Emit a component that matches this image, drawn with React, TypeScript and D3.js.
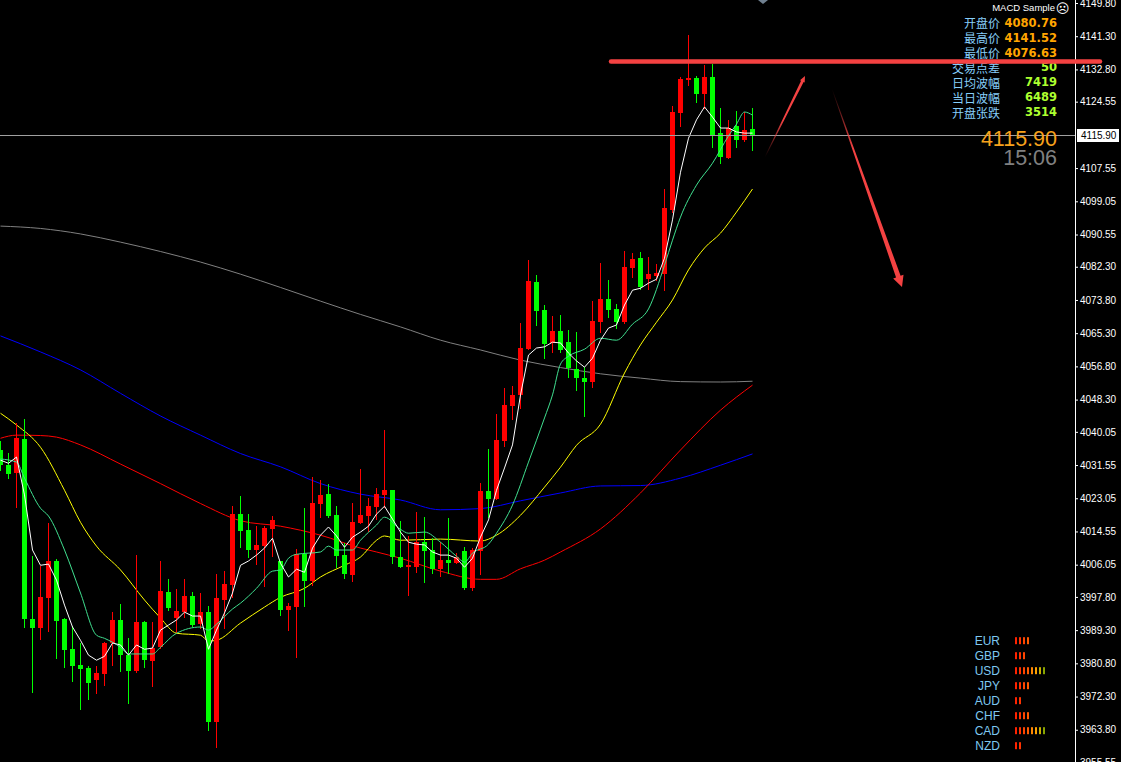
import { useEffect, useRef } from "react";
import * as d3 from "d3";

// candles, index 0 = leftmost visible bar
const opens = [4035.4, 4031.5, 4029.5, 4038.2, 3992.1, 3989.8, 3997.5, 4007.0, 3992.1, 3984.4, 3980.3, 3979.6, 3976.5, 3978.0, 3986.0, 3991.8, 3982.9, 3978.8, 3991.3, 3981.4, 3984.9, 3999.0, 3992.4, 3993.9, 3998.0, 3990.8, 3993.9, 3965.7, 3997.0, 4000.8, 4019.0, 4014.9, 4009.8, 4010.8, 4015.1, 4007.0, 3994.4, 3995.2, 4008.7, 4001.8, 4021.5, 4024.1, 4018.7, 4008.5, 4003.4, 4016.7, 4018.5, 4020.8, 4023.9, 4025.1, 4008.0, 4005.4, 4005.4, 4011.8, 4009.8, 4004.9, 4007.2, 4006.4, 4009.5, 4000.0, 4009.5, 4024.9, 4022.8, 4037.7, 4046.6, 4049.5, 4061.2, 4078.4, 4071.2, 4062.8, 4065.8, 4063.0, 4056.1, 4053.8, 4052.8, 4068.1, 4074.0, 4071.5, 4068.1, 4082.0, 4084.5, 4079.2, 4079.9, 4080.4, 4096.8, 4121.6, 4130.1, 4130.6, 4126.5, 4130.9, 4116.5, 4110.1, 4118.3, 4114.7, 4117.5];
const highs = [4037.7, 4034.6, 4042.3, 4043.3, 4008.2, 4005.7, 4016.7, 4007.5, 3992.3, 3990.3, 3986.0, 3980.1, 3980.1, 3986.2, 3993.9, 3995.9, 3987.2, 4008.5, 3991.6, 3991.3, 4007.0, 4002.3, 3999.8, 4002.3, 3999.0, 3998.8, 3995.4, 4003.6, 4004.4, 4021.0, 4023.6, 4019.0, 4015.9, 4015.9, 4018.5, 4007.0, 3996.2, 4010.0, 4020.5, 4028.5, 4027.7, 4026.7, 4021.0, 4011.6, 4021.8, 4030.5, 4023.1, 4025.7, 4040.5, 4025.1, 4017.2, 4013.4, 4019.5, 4018.2, 4012.8, 4011.8, 4018.0, 4009.0, 4010.5, 4010.3, 4027.0, 4035.6, 4044.6, 4051.2, 4051.8, 4067.9, 4084.0, 4080.2, 4072.5, 4069.7, 4069.9, 4066.1, 4065.6, 4056.6, 4073.5, 4083.2, 4078.9, 4072.7, 4086.3, 4085.8, 4086.1, 4084.8, 4083.0, 4102.2, 4123.4, 4130.9, 4141.5, 4131.1, 4133.9, 4134.2, 4122.9, 4119.9, 4122.2, 4121.9, 4122.9];
const lows = [4030.3, 4028.2, 4020.8, 3990.1, 3973.4, 3987.0, 3989.0, 3982.1, 3979.8, 3976.2, 3969.1, 3971.6, 3973.2, 3975.2, 3980.3, 3978.8, 3970.6, 3978.5, 3979.8, 3975.0, 3984.7, 3994.4, 3988.8, 3992.6, 3990.3, 3989.8, 3963.7, 3959.3, 3989.8, 3997.7, 4010.5, 4008.0, 4006.2, 4000.6, 4008.2, 3993.1, 3989.3, 3982.4, 3995.4, 4000.8, 4018.2, 4018.2, 4005.4, 4002.6, 4001.8, 4016.7, 4014.6, 4017.7, 4020.8, 4006.4, 4005.4, 3998.3, 4004.1, 4001.6, 4003.9, 4003.1, 4003.9, 4006.4, 3999.8, 3999.5, 4003.6, 4018.2, 4022.8, 4036.4, 4043.3, 4046.1, 4061.2, 4067.4, 4058.9, 4060.5, 4060.5, 4054.1, 4050.7, 4044.1, 4051.5, 4065.6, 4069.4, 4066.6, 4067.9, 4079.7, 4076.6, 4076.6, 4078.9, 4076.3, 4096.3, 4118.3, 4128.8, 4124.5, 4122.9, 4112.9, 4108.8, 4110.1, 4112.9, 4114.5, 4112.2];
const closes = [4031.5, 4029.2, 4038.4, 3992.1, 3989.8, 3997.7, 4007.0, 3991.6, 3984.2, 3980.1, 3979.3, 3975.7, 3978.3, 3986.0, 3991.8, 3982.9, 3978.8, 3991.3, 3981.6, 3984.7, 3999.3, 3994.9, 3994.2, 3998.0, 3990.6, 3993.9, 3965.7, 3997.5, 4001.1, 4019.0, 4014.6, 4009.8, 4011.1, 4015.4, 4017.4, 3994.4, 3995.4, 4008.7, 4001.8, 4021.8, 4023.9, 4018.5, 4008.2, 4003.6, 4016.9, 4018.7, 4021.0, 4024.1, 4025.1, 4008.0, 4005.4, 4005.9, 4011.8, 4009.5, 4004.9, 4007.2, 4006.4, 4008.0, 4000.0, 4009.8, 4024.9, 4022.8, 4037.9, 4046.9, 4049.5, 4061.5, 4078.6, 4071.0, 4062.5, 4065.8, 4061.0, 4056.4, 4053.8, 4052.8, 4068.4, 4074.0, 4071.2, 4068.1, 4082.2, 4084.3, 4077.1, 4080.4, 4080.7, 4097.3, 4121.9, 4130.3, 4130.6, 4126.5, 4130.9, 4116.0, 4110.4, 4117.8, 4114.7, 4117.3, 4115.9];

// moving averages: [bar index, price]
const maWhite = [4032.8, 4032.0, 4033.6, 4023.9, 4009.8, 4005.9, 4006.2, 4002.1, 3995.7, 3990.1, 3986.7, 3982.9, 3981.6, 3982.6, 3986.0, 3985.5, 3982.9, 3985.5, 3984.4, 3984.7, 3989.3, 3990.6, 3991.9, 3993.9, 3992.9, 3992.9, 3984.4, 3989.3, 3993.7, 3998.8, 4005.9, 4007.0, 4008.5, 4010.3, 4012.8, 4006.4, 4002.9, 4004.9, 4004.1, 4010.3, 4013.6, 4015.7, 4013.4, 4010.5, 4013.1, 4014.4, 4015.9, 4019.0, 4021.0, 4017.7, 4014.4, 4011.8, 4011.3, 4011.1, 4009.3, 4008.5, 4008.5, 4007.7, 4005.4, 4007.7, 4013.1, 4017.5, 4025.1, 4030.8, 4036.7, 4049.5, 4059.7, 4061.5, 4061.8, 4063.0, 4062.8, 4060.2, 4058.2, 4056.6, 4058.9, 4063.5, 4066.6, 4067.4, 4072.5, 4076.3, 4076.8, 4078.1, 4079.1, 4084.5, 4094.3, 4106.5, 4115.2, 4119.9, 4123.2, 4120.6, 4117.8, 4117.8, 4116.8, 4116.5, 4116.5];
const maTeal: [number, number][] = [[0, 4033.1], [2, 4032.3], [3, 4028.2], [5, 4020.5], [6, 4018.5], [8, 4009.8], [10, 3998.8], [12, 3988.0], [13, 3987.2], [15, 3984.9], [16, 3983.2], [19, 3983.2], [20, 3984.9], [22, 3988.5], [25, 3990.1], [26, 3989.3], [27, 3990.8], [29, 3994.7], [30, 3996.2], [32, 4000.0], [34, 4004.4], [35, 4004.7], [36, 4007.7], [37, 4008.7], [40, 4009.3], [41, 4010.8], [42, 4009.8], [44, 4009.8], [45, 4012.3], [47, 4016.2], [48, 4018.2], [50, 4015.1], [51, 4014.1], [53, 4014.4], [55, 4011.8], [57, 4008.2], [58, 4006.7], [59, 4009.0], [61, 4011.3], [62, 4014.1], [64, 4021.3], [66, 4032.3], [67, 4037.9], [68, 4043.6], [69, 4049.5], [70, 4057.4], [71, 4059.4], [73, 4061.2], [75, 4064.0], [77, 4063.5], [79, 4067.6], [81, 4071.5], [83, 4082.7], [84, 4089.1], [85, 4095.0], [87, 4103.2], [89, 4108.8], [91, 4115.8], [92, 4118.8], [93, 4121.9], [94, 4121.1]];
const maYellow: [number, number][] = [[0, 4044.8], [2, 4041.8], [5, 4036.1], [8, 4025.1], [10, 4016.9], [12, 4010.8], [15, 4004.7], [18, 3997.0], [20, 3992.4], [22, 3988.5], [25, 3988.0], [26, 3986.5], [27, 3986.7], [30, 3991.1], [33, 3995.2], [35, 3997.7], [38, 4000.0], [40, 4002.9], [43, 4005.9], [45, 4008.0], [47, 4012.3], [48, 4013.4], [50, 4012.3], [55, 4012.6], [60, 4012.1], [62, 4013.6], [65, 4018.7], [68, 4025.9], [70, 4031.0], [72, 4036.6], [75, 4042.0], [78, 4055.1], [80, 4062.3], [82, 4068.1], [84, 4073.8], [86, 4081.5], [88, 4087.1], [90, 4090.9], [92, 4096.3], [94, 4102.2]];
const maRed: [number, number][] = [[0, 4038.4], [2, 4039.2], [5, 4039.1], [7, 4038.7], [10, 4036.7], [15, 4031.8], [20, 4026.8], [25, 4021.7], [30, 4017.3], [35, 4015.9], [40, 4013.6], [45, 4010.3], [47, 4009.3], [50, 4007.7], [55, 4004.4], [60, 4002.3], [62, 4002.3], [65, 4005.0], [68, 4007.2], [70, 4009.3], [75, 4015.2], [80, 4024.4], [85, 4035.4], [90, 4045.6], [94, 4052.0]];
const maBlue: [number, number][] = [[0, 4064.6], [5, 4060.5], [10, 4055.9], [15, 4049.9], [20, 4044.1], [25, 4039.2], [30, 4034.5], [35, 4031.1], [40, 4026.8], [45, 4024.1], [50, 4022.6], [55, 4020.1], [60, 4020.4], [65, 4022.4], [70, 4024.4], [75, 4026.2], [80, 4026.3], [85, 4028.2], [90, 4031.5], [94, 4034.4]];
const maGrey: [number, number][] = [[0, 4092.7], [5, 4092.1], [10, 4090.7], [15, 4088.6], [20, 4086.2], [25, 4083.5], [30, 4080.4], [35, 4077.0], [40, 4073.5], [45, 4070.1], [50, 4066.9], [55, 4063.5], [60, 4061.0], [65, 4058.4], [70, 4056.5], [75, 4054.9], [80, 4053.8], [85, 4052.9], [90, 4052.8], [94, 4053.0]];

const tickLabels = ["4149.80", "4141.30", "4132.80", "4124.55", "4107.55", "4099.05", "4090.55", "4082.30", "4073.80", "4065.30", "4056.80", "4048.30", "4040.05", "4031.55", "4023.05", "4014.55", "4006.05", "3997.80", "3989.30", "3980.80", "3972.30", "3963.80", "3955.55"];
const lastPrice = 4115.9;
const lastTime = "15:06";

const infoLabels = ["开盘价", "最高价", "最低价", "交易点差", "日均波幅", "当日波幅", "开盘张跌"];
const infoValues = ["4080.76", "4141.52", "4076.63", "50", "7419", "6489", "3514"];

const currencies = ["EUR", "GBP", "USD", "JPY", "AUD", "CHF", "CAD", "NZD"];
const strength = [4, 3, 8, 4, 2, 4, 8, 2];
const barColors = ["#ff2200", "#ff3300", "#ff4400", "#ff5a00", "#ff8800", "#ffa200", "#c8b000", "#88a400"];

const AXIS_X = 1075.5;
const resistance = 4134.8;

const arrowPts = (sx: number, sy: number, tx: number, ty: number, w0: number, w1: number, hl: number, hw: number) => {
  const len = Math.hypot(tx - sx, ty - sy);
  const ux = (tx - sx) / len, uy = (ty - sy) / len;
  const nx = -uy, ny = ux;
  const bx = tx - ux * hl, by = ty - uy * hl;
  const p = [
    [sx + nx * w0, sy + ny * w0],
    [bx + nx * w1, by + ny * w1],
    [bx + nx * hw, by + ny * hw],
    [tx, ty],
    [bx - nx * hw, by - ny * hw],
    [bx - nx * w1, by - ny * w1],
    [sx - nx * w0, sy - ny * w0],
  ];
  return p.map((q) => q.join(",")).join(" ");
};

const App = () => {
  const axisRef = useRef<SVGGElement | null>(null);

  const x = d3.scaleLinear().domain([0, 94]).range([0.5, 752.5]);
  const y = d3.scaleLinear().domain([3955.55, 4149.8]).range([762, 3]);

  useEffect(() => {
    const g = d3.select(axisRef.current);
    g.selectAll("*").remove();
    g.call(
      d3
        .axisRight(y)
        .tickValues(tickLabels.map(Number))
        .tickFormat((_d, i) => tickLabels[i])
        .tickSize(3)
        .tickSizeOuter(0)
        .tickPadding(2)
    );
    g.select(".domain").attr("stroke", "#ffffff").attr("d", "M0.5,0V762");
    g.selectAll(".tick line").attr("stroke", "#ffffff");
    g.selectAll(".tick text")
      .attr("fill", "#ffffff")
      .attr("font-family", "Liberation Sans, Arial, sans-serif")
      .attr("font-size", 10);
  }, []);

  const line = d3
    .line<[number, number]>()
    .x((d) => x(d[0]))
    .y((d) => y(d[1]))
    .curve(d3.curveMonotoneX);
  const whiteLine = d3
    .line<number>()
    .x((_d, i) => x(i))
    .y((d) => y(d));

  const lastY = Math.round(y(lastPrice)) + 0.5;

  return (
    <svg
      width={1121}
      height={762}
      style={{ position: "absolute", left: 0, top: 0, background: "#000" }}
    >
      <rect width={1121} height={762} fill="#000" />
      {/* long MAs */}
      <path d={line(maGrey) || ""} fill="none" stroke="#808080" strokeWidth={1} />
      <path d={line(maBlue) || ""} fill="none" stroke="#0000ff" strokeWidth={1} />
      <path d={line(maRed) || ""} fill="none" stroke="#ff0000" strokeWidth={1} />
      <path d={line(maYellow) || ""} fill="none" stroke="#ffff00" strokeWidth={1} />

      {/* candles */}
      {opens.map((o, i) => {
        const c = closes[i];
        const up = c >= o;
        const col = up ? "#ff0000" : "#00ff00";
        const cx = x(i);
        const top = Math.round(y(Math.max(o, c)));
        const bot = Math.round(y(Math.min(o, c)));
        return (
          <g key={i}>
            <line x1={cx} x2={cx} y1={Math.round(y(highs[i]))} y2={Math.round(y(lows[i])) + 1} stroke={col} />
            <rect x={cx - 2.5} y={top} width={5} height={Math.max(1, bot - top)} fill={col} />
          </g>
        );
      })}

      <path d={line(maTeal) || ""} fill="none" stroke="#40e090" strokeWidth={1} />
      <path d={whiteLine(maWhite) || ""} fill="none" stroke="#ffffff" strokeWidth={1} />

      {/* bid line */}
      <line x1={0} x2={AXIS_X} y1={lastY} y2={lastY} stroke="#a0a0a0" />

      {/* marker at top */}
      <polygon points="758,0 768,0 763,4" fill="#708090" />

      {/* info panel */}
      <text x={1055} y={7.5} textAnchor="end" dominantBaseline="central" fill="#ffffff" fontFamily="Liberation Sans, Arial, sans-serif" fontSize={9.5}>
        MACD Sample
      </text>
      <text x={1062.5} y={8} textAnchor="middle" dominantBaseline="central" fill="#ffffff" fontFamily="DejaVu Sans" fontSize={13}>
        ☹
      </text>
      {infoLabels.map((lab, k) => (
        <g key={lab}>
          <text x={1000} y={22.7 + k * 14.9} textAnchor="end" dominantBaseline="central" fill="#87cefa" fontFamily="Noto Sans CJK SC" fontSize={12}>
            {lab}
          </text>
          <text x={1057} y={22.7 + k * 14.9} textAnchor="end" dominantBaseline="central" fill={k < 3 ? "#ffa500" : "#adff2f"} fontFamily="DejaVu Sans" fontWeight="bold" fontSize={11.5}>
            {infoValues[k]}
          </text>
        </g>
      ))}
      <text x={1057} y={139} textAnchor="end" dominantBaseline="central" fill="#f7a21c" fontFamily="Liberation Sans, Arial, sans-serif" fontSize={21.5}>
        {lastPrice.toFixed(2)}
      </text>
      <text x={1057} y={158} textAnchor="end" dominantBaseline="central" fill="#808080" fontFamily="Liberation Sans, Arial, sans-serif" fontSize={21.5}>
        {lastTime}
      </text>

      {/* currency strength */}
      {currencies.map((cur, k) => {
        const cy = 640.7 + k * 15;
        return (
          <g key={cur}>
            <text x={1000} y={cy} textAnchor="end" dominantBaseline="central" fill="#7ec8f0" fontFamily="Liberation Sans, Arial, sans-serif" fontSize={12}>
              {cur}
            </text>
            {d3.range(strength[k]).map((j) => (
              <rect key={j} x={1015 + j * 4} y={cy - 3.5} width={2} height={7} fill={barColors[j]} />
            ))}
          </g>
        );
      })}

      {/* price axis */}
      <g ref={axisRef} transform={`translate(${AXIS_X - 0.5},0)`} />
      <rect x={1077} y={lastY - 6.5} width={42} height={13} fill="#ffffff" />
      <text x={1081} y={lastY} dominantBaseline="central" fill="#000" fontFamily="Liberation Sans, Arial, sans-serif" fontSize={10}>
        {lastPrice.toFixed(2)}
      </text>

      {/* hand drawn annotations */}
      <defs>
        <linearGradient id="fadeA" gradientUnits="userSpaceOnUse" x1={765} y1={157} x2={805} y2={76}>
          <stop offset="0" stopColor="#f44242" stopOpacity={0} />
          <stop offset="0.45" stopColor="#f44242" stopOpacity={1} />
        </linearGradient>
        <linearGradient id="fadeB" gradientUnits="userSpaceOnUse" x1={832} y1={89} x2={902} y2={287}>
          <stop offset="0" stopColor="#f44242" stopOpacity={0} />
          <stop offset="0.3" stopColor="#f44242" stopOpacity={1} />
        </linearGradient>
      </defs>
      <line x1={611} x2={1100} y1={y(resistance)} y2={y(resistance)} stroke="#f44242" strokeWidth={4.5} strokeLinecap="round" />
      <polygon points={arrowPts(765, 157, 805, 76, 0.3, 1.4, 6, 2.6)} fill="url(#fadeA)" />
      <polygon points={arrowPts(832, 89, 902, 287, 0.3, 2.4, 11, 5.5)} fill="url(#fadeB)" />
    </svg>
  );
};

export default App;
